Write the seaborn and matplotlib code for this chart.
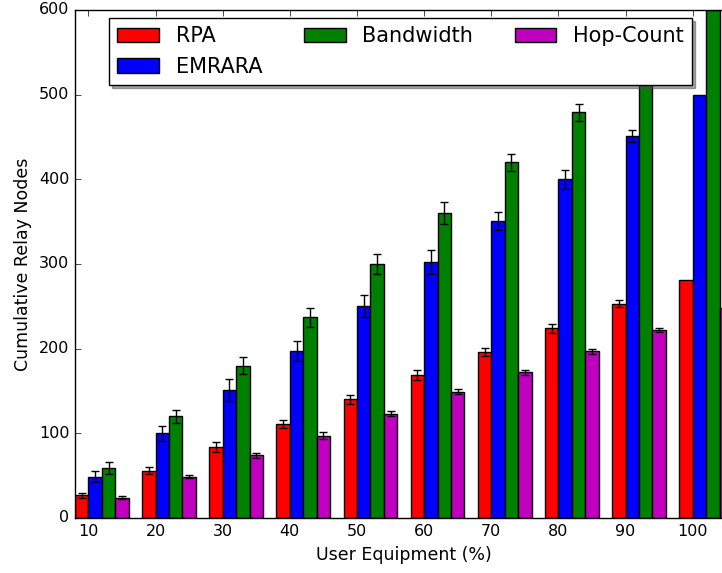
import numpy as np
import pandas as pd
import matplotlib
matplotlib.use("Agg")
import matplotlib.pyplot as plt
import seaborn as sns

# User equipment share (%) on the x axis
ue_labels = ["10", "20", "30", "40", "50", "60", "70", "80", "90", "100"]
methods = ["RPA", "EMRARA", "Bandwidth", "Hop-Count"]

# Cumulative relay nodes per method
rpa = [27, 56, 84, 111, 140, 169, 196, 224, 253, 281]
emrara = [49, 100, 151, 197, 250, 302, 351, 400, 451, 500]
bandwidth = [59, 120, 180, 237, 300, 360, 420, 479, 540, 600]
hop_count = [24, 49, 74, 97, 123, 149, 172, 197, 222, 248]

# Half-width of the error bars (0 = no error bar)
rpa_err = [3, 4, 6, 5, 5, 6, 5, 5, 4, 0]
emrara_err = [7, 9, 13, 12, 13, 14, 11, 11, 7, 0]
bandwidth_err = [7, 8, 10, 11, 12, 13, 10, 10, 10, 0]
hop_count_err = [2, 2, 3, 4, 3, 3, 3, 3, 2, 0]

colors = ["#ff0000", "#0000ff", "#008000", "#bf00bf"]

values = [rpa, emrara, bandwidth, hop_count]
errors = [rpa_err, emrara_err, bandwidth_err, hop_count_err]

df = pd.DataFrame({
    "ue": np.tile(ue_labels, len(methods)),
    "method": np.repeat(methods, len(ue_labels)),
    "nodes": np.concatenate(values),
})

plt.style.use("classic")
plt.rcParams.update({
    "font.family": ["DejaVu Sans"],
    "figure.facecolor": "white",
    "savefig.facecolor": "white",
})

fig = plt.figure(figsize=(7.22, 5.73), dpi=100)
ax = fig.add_axes([75 / 722, 1 - 518 / 573, 658 / 722, 508 / 573])

sns.barplot(
    data=df, x="ue", y="nodes", hue="method",
    order=ue_labels, hue_order=methods, palette=colors,
    saturation=1, errorbar=None, width=0.8,
    edgecolor="black", linewidth=1.0, legend=False, ax=ax,
)

# Error bars on top of each bar
for cont, err in zip(ax.containers, errors):
    xs, ys, es = [], [], []
    for bar, e in zip(cont, err):
        if e > 0:
            xs.append(bar.get_x() + bar.get_width() / 2)
            ys.append(bar.get_height())
            es.append(e)
    ax.errorbar(xs, ys, yerr=es, fmt="none", ecolor="black",
                elinewidth=1.0, capsize=3, capthick=1.0, zorder=5)

centers = np.arange(len(ue_labels))
ax.set_xlim(-0.4, len(ue_labels) - 0.6)
ax.set_xticks(centers - 0.2)
ax.set_xticklabels(ue_labels)
ax.set_ylim(0, 600)
ax.set_yticks(range(0, 601, 100))
ax.tick_params(axis="both", which="major", labelsize=11.5,
               direction="in", top=True, right=True, length=4)

ax.set_xlabel("User Equipment (%)", fontsize=12.5)
ax.set_ylabel("Cumulative Relay Nodes", fontsize=12.5)

ax.legend(ax.containers, methods, ncol=3, loc="upper left",
          bbox_to_anchor=(109 / 722, 1 - 18 / 573),
          bbox_transform=fig.transFigure, borderaxespad=0,
          shadow=True, fancybox=False, fontsize=15,
          columnspacing=2.0, handlelength=2.0, handletextpad=0.8,
          labelspacing=0.5, framealpha=1)

fig.savefig("out.png", dpi=100)
